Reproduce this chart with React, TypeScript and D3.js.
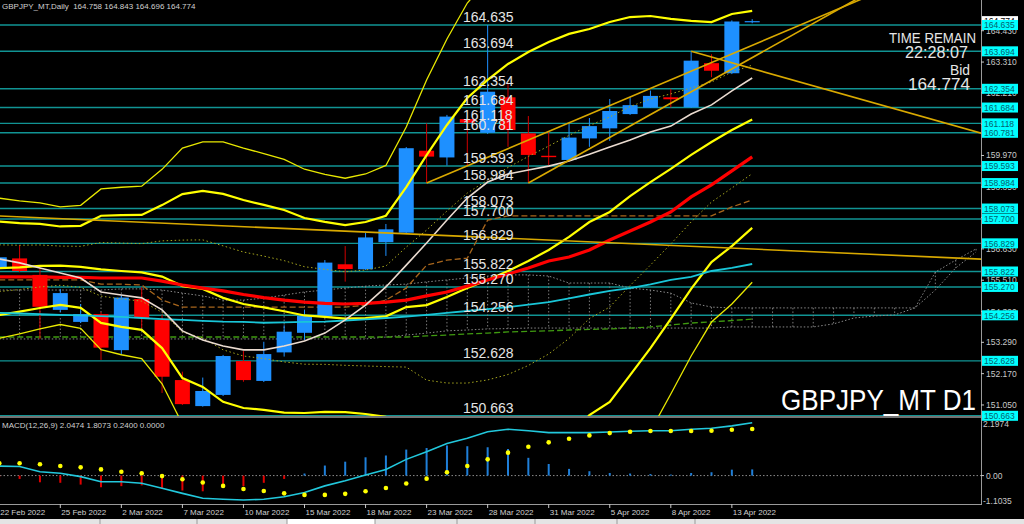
import { useEffect, useRef } from 'react'
import * as d3 from 'd3'

const DATES = ['22 Feb 2022','23 Feb 2022','24 Feb 2022','25 Feb 2022','28 Feb 2022','1 Mar 2022','2 Mar 2022','3 Mar 2022','4 Mar 2022','7 Mar 2022','8 Mar 2022','9 Mar 2022','10 Mar 2022','11 Mar 2022','14 Mar 2022','15 Mar 2022','16 Mar 2022','17 Mar 2022','18 Mar 2022','21 Mar 2022','22 Mar 2022','23 Mar 2022','24 Mar 2022','25 Mar 2022','28 Mar 2022','29 Mar 2022','30 Mar 2022','31 Mar 2022','1 Apr 2022','4 Apr 2022','5 Apr 2022','6 Apr 2022','7 Apr 2022','8 Apr 2022','11 Apr 2022','12 Apr 2022','13 Apr 2022','14 Apr 2022']

const OPEN = [155.95,156.29,155.70,154.45,154.02,154.30,153.01,154.84,154.09,151.94,151.01,151.41,152.62,151.91,152.93,153.63,154.21,156.08,155.90,156.87,157.21,160.14,159.90,161.27,160.781,162.05,160.76,159.96,159.81,160.58,160.94,161.45,161.68,162.05,161.69,163.27,162.91,164.758]
const HIGH = [156.40,156.77,155.95,155.20,154.66,154.37,154.98,155.27,154.27,152.24,152.03,152.84,152.98,153.31,153.90,154.44,156.23,156.73,157.20,157.52,160.27,161.118,161.42,161.31,164.635,162.55,161.38,160.82,161.12,161.31,161.99,162.05,162.29,162.354,163.694,163.59,164.80,164.843]
const LOW = [155.90,155.80,153.41,154.37,153.98,152.66,152.84,153.80,151.48,151.05,150.99,151.37,151.88,151.87,152.78,153.37,154.16,155.46,155.88,156.38,157.16,158.984,159.61,159.593,160.74,160.28,158.984,159.63,159.77,160.28,160.49,161.42,161.67,161.684,161.67,162.77,162.88,164.696]
const CLOSE = [156.33,155.84,154.56,155.05,154.30,153.10,154.89,154.15,152.06,151.08,151.55,152.80,151.94,152.87,153.67,154.24,156.14,155.91,157.04,157.33,160.23,159.93,161.36,161.14,162.25,160.88,159.99,159.91,160.61,161.02,161.56,161.77,162.10,161.98,163.36,163.00,164.76,164.774]

const BB_MID = [155.94,155.97,156.02,156.03,155.99,155.90,155.84,155.79,155.64,155.30,155.20,154.88,154.66,154.54,154.40,154.25,154.20,154.14,154.16,154.22,154.55,154.62,154.91,155.23,155.52,155.84,156.20,156.59,157.06,157.59,157.95,158.52,159.02,159.49,159.99,160.45,160.88,161.26]
const BB_SD = [0.835,0.792,0.751,0.701,0.733,0.958,0.998,1.028,1.278,1.645,1.752,1.859,1.859,1.832,1.811,1.743,1.698,1.672,1.716,1.798,2.145,2.682,3.075,3.397,3.575,3.701,3.736,3.718,3.629,3.450,3.397,3.200,2.968,2.682,2.396,2.145,2.074,1.940]
const MA_RED = [155.63,155.63,155.63,155.61,155.61,155.59,155.59,155.59,155.48,155.34,155.23,155.13,155.00,154.89,154.80,154.73,154.68,154.66,154.68,154.73,154.80,154.95,155.09,155.30,155.52,155.73,155.95,156.20,156.34,156.59,156.95,157.27,157.59,157.95,158.49,158.92,159.42,159.92]
const MA_CYAN = [154.34,154.32,154.30,154.27,154.25,154.23,154.20,154.16,154.12,154.09,154.06,154.03,154.02,153.99,154.00,154.02,154.03,154.07,154.11,154.16,154.21,154.27,154.34,154.41,154.48,154.55,154.64,154.73,154.86,155.00,155.13,155.23,155.36,155.52,155.63,155.84,155.95,156.09]
const MA_WHITE = [156.27,156.13,155.95,155.77,155.59,155.09,154.98,154.88,154.45,153.70,153.37,153.16,153.02,153.02,153.16,153.34,153.62,154.09,154.62,155.27,156.05,156.84,157.66,158.45,159.02,159.31,159.45,159.59,159.77,160.01,160.27,160.52,160.81,161.02,161.45,161.78,162.28,162.74]
const KIJUN = [155.52,155.52,155.52,155.52,155.52,155.37,155.37,155.34,154.80,154.55,154.55,154.55,154.55,154.55,154.55,154.55,154.55,154.55,154.62,154.80,155.23,156.05,156.23,156.30,157.66,157.81,157.81,157.81,157.81,157.81,157.81,157.81,157.81,157.81,157.81,157.81,158.13,158.38]
const GREEN_DASH = [153.48,153.48,153.48,153.48,153.48,153.48,153.48,153.48,153.48,153.48,153.48,153.48,153.48,153.48,153.48,153.48,153.48,153.48,153.48,153.48,153.48,153.52,153.55,153.59,153.62,153.66,153.68,153.70,153.73,153.75,153.77,153.80,153.84,153.91,153.98,154.02,154.07,154.12]
const SPAN_A = [155.16,155.16,155.16,155.16,155.16,155.16,155.20,155.20,155.16,155.05,154.95,154.80,154.80,154.87,154.98,155.09,155.16,155.23,155.30,155.34,155.37,155.45,155.52,155.59,155.66,155.70,155.70,155.66,155.41,155.41,155.41,155.23,155.16,155.05,154.70,154.55,154.52,154.52,154.52,154.52,154.52,154.52,154.52,154.52,154.52,154.52,155.80,156.23,156.63]
const SPAN_B = [153.41,153.41,153.41,153.41,153.41,153.41,153.41,153.41,153.41,153.41,153.41,153.41,153.41,153.41,153.41,153.41,153.41,153.41,153.41,153.48,153.55,153.62,153.70,153.73,153.77,153.78,153.80,153.80,153.80,153.80,153.80,153.80,153.80,153.80,153.80,153.80,153.84,153.84,153.84,153.84,153.84,153.95,154.16,154.23,154.27,154.52,155.16,155.95,156.52]

const MACD_MAIN = [0.37,0.35,0.15,0.09,-0.04,-0.24,-0.24,-0.30,-0.49,-0.69,-0.88,-0.92,-0.95,-0.92,-0.82,-0.66,-0.40,-0.20,0.02,0.24,0.63,0.93,1.25,1.45,1.70,1.80,1.74,1.67,1.67,1.67,1.69,1.72,1.74,1.74,1.80,1.84,1.93,2.05]
const MACD_SIGNAL = [0.48,0.48,0.44,0.37,0.32,0.24,0.15,0.09,-0.02,-0.14,-0.27,-0.40,-0.52,-0.60,-0.69,-0.75,-0.75,-0.71,-0.61,-0.48,-0.31,-0.12,0.13,0.37,0.63,0.89,1.12,1.29,1.43,1.56,1.65,1.70,1.73,1.73,1.73,1.74,1.78,1.81]
const MACD_HIST = [-0.05,-0.13,-0.26,-0.28,-0.35,-0.45,-0.41,-0.38,-0.48,-0.58,-0.61,-0.39,-0.41,-0.28,-0.13,0.08,0.39,0.54,0.71,0.78,1.01,1.07,1.17,1.14,1.10,1.03,0.69,0.45,0.26,0.17,0.10,0.08,0.06,0.04,0.10,0.13,0.23,0.24]

const LEVELS = [164.635,163.694,162.354,161.684,161.118,160.781,159.593,158.984,158.073,157.700,156.829,155.822,155.270,154.256,152.628,150.663]
const AXIS_TICKS = [164.430,163.310,162.210,161.090,159.970,158.850,157.750,156.630,155.510,154.390,153.290,152.170,151.050]
const MACD_TICKS = [2.1974, 0, -1.1035]

// trend lines: bar index / price anchors, extended to the right edge (back = also to the left)
const TRENDS = [
  { i1: 21, p1: 158.984, i2: 36, p2: 163.60, back: false },
  { i1: 26, p1: 158.984, i2: 36, p2: 163.06, back: false },
  { i1: 34, p1: 163.694, i2: 44, p2: 161.64, back: false },
  { i1: 0, p1: 157.81, i2: 40, p2: 156.53, back: true },
]

const FONT = 'Liberation Sans, Arial, sans-serif'

export default function App() {
  const ref = useRef<SVGSVGElement>(null)

  useEffect(() => {
    const el = ref.current
    if (!el) return
    const svg = d3.select(el)
    svg.selectAll('*').remove()

    const W = 1024, H = 524
    const AX = 981
    const MAIN_B = 416
    const x = d3.scaleLinear().domain([0, 36]).range([-0.75, 731.85])
    const y = d3.scaleLinear().domain([150.663, 164.635]).range([415.8, 25])
    const ym = d3.scaleLinear().domain([-1.1035, 2.1974]).range([504, 419])
    const lastIdx = x.invert(AX)

    svg.append('rect').attr('width', W).attr('height', H).attr('fill', '#000')

    const defs = svg.append('defs')
    defs.append('clipPath').attr('id', 'clip-main').append('rect')
      .attr('x', 0).attr('y', 0).attr('width', AX).attr('height', MAIN_B)
    defs.append('clipPath').attr('id', 'clip-macd').append('rect')
      .attr('x', 0).attr('y', 418).attr('width', AX).attr('height', 86)

    const main = svg.append('g').attr('clip-path', 'url(#clip-main)')

    // horizontal levels
    main.selectAll('line.lvl').data(LEVELS).join('line')
      .attr('x1', 0).attr('x2', AX).attr('y1', d => y(d)).attr('y2', d => y(d))
      .attr('stroke', '#119494').attr('stroke-width', 1.4)

    // cloud (gray dotted)
    const lineOf = (arr: number[]) => d3.line<number>().x((_, i) => x(i)).y(v => y(v))(arr) ?? ''
    SPAN_A.forEach((a, i) => {
      main.append('line').attr('x1', x(i)).attr('x2', x(i)).attr('y1', y(a)).attr('y2', y(SPAN_B[i]))
        .attr('stroke', '#7a7a7a').attr('stroke-width', 1).attr('stroke-dasharray', '1.5,2')
    })
    ;[SPAN_A, SPAN_B].forEach(s => {
      main.append('path').attr('d', lineOf(s)).attr('fill', 'none')
        .attr('stroke', '#8a8a8a').attr('stroke-width', 1).attr('stroke-dasharray', '1.5,2')
    })

    main.append('path').attr('d', lineOf(GREEN_DASH)).attr('fill', 'none')
      .attr('stroke', '#3f9a10').attr('stroke-width', 1.3).attr('stroke-dasharray', '6,3')
    main.append('path').attr('d', lineOf(KIJUN))
      .attr('fill', 'none').attr('stroke', '#a8661c').attr('stroke-width', 1.3).attr('stroke-dasharray', '6,3')

    // candles
    const bw = 15
    DATES.forEach((_, i) => {
      const up = CLOSE[i] >= OPEN[i]
      const col = up ? '#1e90ff' : '#ff0000'
      main.append('line').attr('x1', x(i)).attr('x2', x(i)).attr('y1', y(HIGH[i])).attr('y2', y(LOW[i]))
        .attr('stroke', up ? '#1e90ff' : '#d00000').attr('stroke-width', 1)
      const top = y(Math.max(OPEN[i], CLOSE[i]))
      const bot = y(Math.min(OPEN[i], CLOSE[i]))
      main.append('rect').attr('x', x(i) - bw / 2).attr('width', bw)
        .attr('y', top).attr('height', Math.max(1.2, bot - top)).attr('fill', col)
    })

    // Bollinger bands
    const band = (k: number) => BB_MID.map((m, i) => m + k * BB_SD[i])
    ;[1, -1].forEach(k => {
      main.append('path').attr('d', lineOf(band(k))).attr('fill', 'none')
        .attr('stroke', '#a6a61e').attr('stroke-width', 1).attr('stroke-dasharray', '1.5,2.5')
    })
    ;[3, -3].forEach(k => {
      main.append('path').attr('d', lineOf(band(k))).attr('fill', 'none')
        .attr('stroke', '#e8e800').attr('stroke-width', 1.3)
    })
    ;[2, -2, 0].forEach(k => {
      main.append('path').attr('d', lineOf(band(k))).attr('fill', 'none')
        .attr('stroke', '#ffff00').attr('stroke-width', 2.2)
    })

    main.append('path').attr('d', lineOf(MA_RED)).attr('fill', 'none')
      .attr('stroke', '#ff0000').attr('stroke-width', 3.2)
    main.append('path').attr('d', lineOf(MA_CYAN)).attr('fill', 'none')
      .attr('stroke', '#19c6d8').attr('stroke-width', 1.8)
    main.append('path').attr('d', lineOf(MA_WHITE)).attr('fill', 'none')
      .attr('stroke', '#eadbd0').attr('stroke-width', 1.6)

    // trend lines
    TRENDS.forEach(t => {
      const slope = (t.p2 - t.p1) / (t.i2 - t.i1)
      const a = t.back ? -2 : t.i1
      const b = lastIdx + 1
      main.append('line')
        .attr('x1', x(a)).attr('y1', y(t.p1 + slope * (a - t.i1)))
        .attr('x2', x(b)).attr('y2', y(t.p1 + slope * (b - t.i1)))
        .attr('stroke', '#d9a900').attr('stroke-width', 1.6)
    })

    // level texts
    main.selectAll('text.lvl').data(LEVELS).join('text')
      .attr('x', 463).attr('y', d => y(d) - 3)
      .attr('font-family', FONT).attr('font-size', 14).attr('fill', '#e4e4e4')
      .text(d => d.toFixed(3))

    // info texts
    const info = [
      { t: 'TIME REMAIN', x: 889, y: 42.5, s: 14.5, len: 87 },
      { t: '22:28:07', x: 905, y: 57.5, s: 16, len: 63 },
      { t: 'Bid', x: 950, y: 75, s: 14, len: 20 },
      { t: '164.774', x: 908, y: 89.5, s: 17, len: 62 },
    ]
    info.forEach(d => {
      svg.append('text').attr('x', d.x).attr('y', d.y).attr('font-family', FONT)
        .attr('font-size', d.s).attr('fill', '#e6e6e6')
        .attr('textLength', d.len).attr('lengthAdjust', 'spacingAndGlyphs').text(d.t)
    })
    svg.append('text').attr('x', 781).attr('y', 410).attr('font-family', FONT)
      .attr('font-size', 30).attr('fill', '#ffffff')
      .attr('textLength', 195).attr('lengthAdjust', 'spacingAndGlyphs').text('GBPJPY_MT D1')

    svg.append('text').attr('x', 2).attr('y', 9).attr('font-family', FONT).attr('font-size', 8)
      .attr('fill', '#d0d0d0').attr('xml:space', 'preserve')
      .text('GBPJPY_MT,Daily  164.758 164.843 164.696 164.774')

    // MACD panel
    const mg = svg.append('g').attr('clip-path', 'url(#clip-macd)')
    mg.append('line').attr('x1', 0).attr('x2', AX).attr('y1', ym(0)).attr('y2', ym(0))
      .attr('stroke', '#8a8a8a').attr('stroke-dasharray', '1.5,2')
    MACD_HIST.forEach((v, i) => {
      mg.append('line').attr('x1', x(i)).attr('x2', x(i)).attr('y1', ym(0)).attr('y2', ym(v))
        .attr('stroke', v >= 0 ? '#1f7fd8' : '#e00000').attr('stroke-width', 2)
    })
    mg.append('path')
      .attr('d', d3.line<number>().x((_, i) => x(i)).y(v => ym(v))(MACD_MAIN) ?? '')
      .attr('fill', 'none').attr('stroke', '#22c8dc').attr('stroke-width', 1.6)
    mg.selectAll('circle').data(MACD_SIGNAL).join('circle')
      .attr('cx', (_, i) => x(i)).attr('cy', d => ym(d)).attr('r', 2.3).attr('fill', '#ffff00')
    svg.append('text').attr('x', 2).attr('y', 428).attr('font-family', FONT).attr('font-size', 8)
      .attr('fill', '#d0d0d0').text('MACD(12,26,9) 2.0474 1.8073 0.2400 0.0000')

    // frame
    const frame = '#9a9a9a'
    svg.append('line').attr('x1', 0).attr('x2', AX).attr('y1', 417).attr('y2', 417).attr('stroke', frame).attr('stroke-width', 1.5)
    svg.append('line').attr('x1', 0).attr('x2', AX).attr('y1', 504.5).attr('y2', 504.5).attr('stroke', frame)
    svg.append('line').attr('x1', AX + 0.5).attr('x2', AX + 0.5).attr('y1', 0).attr('y2', 505).attr('stroke', frame)

    // right axis labels
    AXIS_TICKS.forEach(p => {
      svg.append('line').attr('x1', AX).attr('x2', AX + 3).attr('y1', y(p)).attr('y2', y(p)).attr('stroke', '#c8c8c8')
      svg.append('text').attr('x', AX + 5).attr('y', y(p) + 3).attr('font-family', FONT).attr('font-size', 8.5)
        .attr('fill', '#c8c8c8').text(p.toFixed(3))
    })
    MACD_TICKS.forEach((v, j) => {
      const yy = j === 0 ? 423.5 : j === 2 ? 500.5 : ym(v)
      if (v === 0) svg.append('line').attr('x1', AX).attr('x2', AX + 3).attr('y1', yy).attr('y2', yy).attr('stroke', '#c8c8c8')
      svg.append('text').attr('x', v === 0 ? AX + 5 : AX + 2).attr('y', yy + 3).attr('font-family', FONT).attr('font-size', 8.5)
        .attr('fill', '#c8c8c8').text(v === 0 ? '0.00' : v.toFixed(4))
    })
    // bid box
    const bid = CLOSE[CLOSE.length - 1]
    svg.append('rect').attr('x', AX + 1).attr('y', y(bid) - 5).attr('width', 36).attr('height', 10).attr('fill', '#ffffff')
    svg.append('text').attr('x', AX + 3).attr('y', y(bid) + 3.2).attr('font-family', FONT).attr('font-size', 8.5)
      .attr('fill', '#000').text(bid.toFixed(3))
    LEVELS.forEach(p => {
      svg.append('rect').attr('x', AX + 1).attr('y', y(p) - 5).attr('width', 36).attr('height', 10).attr('fill', '#00ffff')
      svg.append('text').attr('x', AX + 3).attr('y', y(p) + 3.2).attr('font-family', FONT).attr('font-size', 8.5)
        .attr('fill', '#06606c').text(p.toFixed(3))
    })

    // x axis
    DATES.forEach((d, i) => {
      if (i % 3 !== 0) return
      svg.append('line').attr('x1', x(i)).attr('x2', x(i)).attr('y1', 504).attr('y2', 508).attr('stroke', '#c8c8c8')
      svg.append('text').attr('x', x(i) + 1).attr('y', 514.5).attr('font-family', FONT).attr('font-size', 8)
        .attr('fill', '#d0d0d0').text(d)
    })

    // bottom tabs
    svg.append('rect').attr('x', 0).attr('y', 519).attr('width', W).attr('height', 5).attr('fill', '#e4e4e4')
    svg.append('rect').attr('x', 287).attr('y', 519).attr('width', 88).attr('height', 5).attr('fill', '#ffffff')
    ;[100, 197, 287, 375, 457, 535, 617, 695].forEach(sx => {
      svg.append('line').attr('x1', sx).attr('x2', sx).attr('y1', 519).attr('y2', 524).attr('stroke', '#9a9a9a')
    })

    return () => { svg.selectAll('*').remove() }
  }, [])

  return <svg ref={ref} width={1024} height={524} style={{ position: 'absolute', left: 0, top: 0, display: 'block' }} />
}
